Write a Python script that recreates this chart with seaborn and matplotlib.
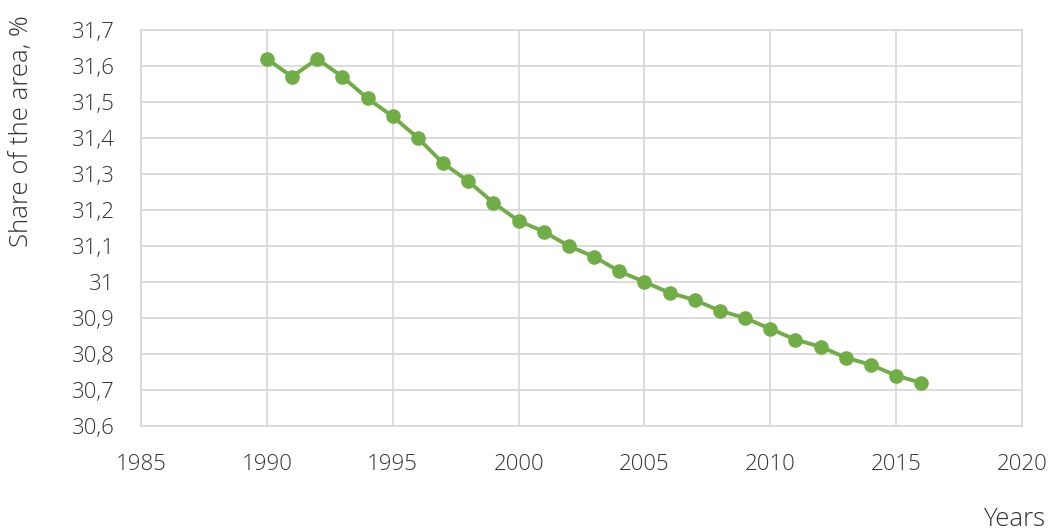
import matplotlib
matplotlib.use("Agg")
import matplotlib.pyplot as plt
import matplotlib.ticker as mticker
import seaborn as sns
import pandas as pd

years = list(range(1990, 2017))
share = [31.62, 31.57, 31.62, 31.57, 31.51, 31.46, 31.40, 31.33, 31.28, 31.22,
         31.17, 31.14, 31.10, 31.07, 31.03, 31.00, 30.97, 30.95, 30.92, 30.90,
         30.87, 30.84, 30.82, 30.79, 30.77, 30.74, 30.72]

x_label = "Years"
y_label = "Share of the area, %"

df = pd.DataFrame({"year": years, "share": share})

sns.set_theme(style="white")
plt.rcParams["font.family"] = ["Open Sans", "DejaVu Sans"]
plt.rcParams["font.weight"] = "light"

fig = plt.figure(figsize=(10.51, 5.31), dpi=100)
ax = fig.add_axes([141 / 1051, 1 - 426 / 531, (1022 - 141) / 1051, (426 - 30) / 531])

sns.lineplot(data=df, x="year", y="share", ax=ax, color="#70ad47",
             linewidth=2.8, marker="o", markersize=10.5, markeredgewidth=0, zorder=3)

ax.set_xlim(1985, 2020)
ax.set_ylim(30.6, 31.7)
ax.xaxis.set_major_locator(mticker.MultipleLocator(5))
ax.yaxis.set_major_locator(mticker.MultipleLocator(0.1))


def comma_fmt(v, pos):
    s = f"{v:.1f}"
    if s.endswith(".0"):
        s = s[:-2]
    return s.replace(".", ",")


ax.yaxis.set_major_formatter(mticker.FuncFormatter(comma_fmt))
ax.grid(True, color="#d9d9d9", linewidth=1.3)
for side in ["top", "right", "left", "bottom"]:
    ax.spines[side].set_color("#d9d9d9")
    ax.spines[side].set_linewidth(1.3)
ax.tick_params(axis="both", length=0, labelsize=16, colors="#333333")
ax.tick_params(axis="y", pad=19)
ax.tick_params(axis="x", pad=20)
ax.set_xlabel("")
ax.set_ylabel("")

fig.text(1045 / 1051, 1 - 519 / 531, x_label, ha="right", va="center",
         fontsize=18.5, color="#333333")
fig.text(22 / 1051, 1 - 131 / 531, y_label, ha="center", va="center",
         rotation=90, fontsize=18.5, color="#333333")

fig.savefig("out.png", dpi=100)
